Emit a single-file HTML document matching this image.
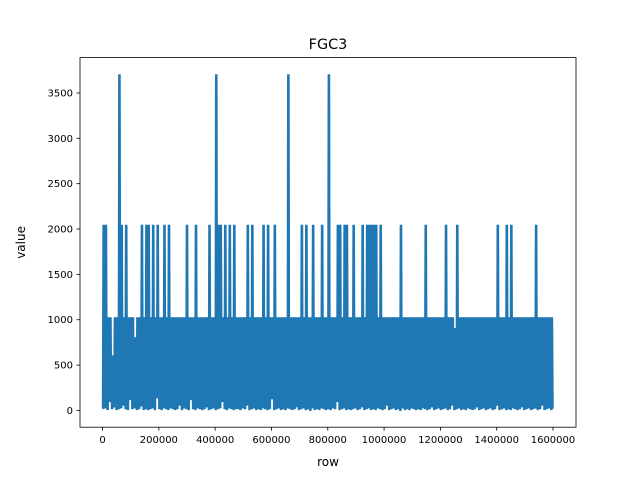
<!DOCTYPE html>
<html><head><meta charset="utf-8"><style>
html,body{margin:0;padding:0;background:#fff;}
svg{display:block;font-family:"DejaVu Sans","Liberation Sans",sans-serif;}
</style></head><body>
<svg id="chart" width="640" height="480"></svg>
<script>
const rowStep = 8000;
const highs = [
2040,2040,1020,1020,600,1020,1020,3700,2040,1020,
2040,1020,1020,1020,800,1020,1020,2040,1020,2040,
2040,1020,2040,1020,2040,1020,1020,2040,1020,2040,
1020,1020,1020,1020,1020,1020,1020,2040,1020,1020,
1020,2040,1020,1020,1020,1020,1020,2040,1020,1020,
3700,2040,2040,1020,2040,1020,2040,1020,2040,1020,
1020,1020,1020,1020,2040,1020,2040,1020,1020,1020,
1020,2040,1020,2040,1020,1020,2040,1020,1020,1020,
1020,1020,3700,1020,1020,1020,1020,1020,2040,1020,
2040,1020,1020,2040,1020,1020,1020,2040,1020,1020,
3700,1020,1020,1020,2040,2040,1020,2040,2040,1020,
1020,2040,1020,1020,1020,2040,1020,2040,2040,2040,
2040,2040,1020,2040,1020,1020,1020,1020,1020,1020,
1020,1020,2040,1020,1020,1020,1020,1020,1020,1020,
1020,1020,1020,2040,1020,1020,1020,1020,1020,1020,
1020,1020,2040,1020,1020,1020,900,2040,1020,1020,
1020,1020,1020,1020,1020,1020,1020,1020,1020,1020,
1020,1020,1020,1020,1020,2040,1020,1020,1020,2040,
1020,2040,1020,1020,1020,1020,1020,1020,1020,1020,
1020,1020,2040,1020,1020,1020,1020,1020,1020,1020];
const lows = [
20,30,10,100,20,40,10,20,30,60,
20,10,120,20,30,10,20,50,10,20,
10,20,30,10,140,20,10,30,20,10,
30,20,10,20,60,10,30,20,10,120,
20,10,30,20,10,20,40,10,20,30,
10,20,30,100,20,10,30,20,10,20,
20,10,30,20,60,10,20,30,10,20,
10,30,20,10,20,130,10,20,30,10,
20,10,30,20,10,20,40,10,20,30,
10,20,0,30,10,20,10,30,20,10,
20,10,30,20,100,10,20,30,10,20,
10,20,30,10,20,40,10,20,30,10,
20,10,30,20,10,20,60,10,20,30,
10,20,0,30,10,20,10,30,20,10,
20,10,30,20,10,20,40,10,20,30,
10,20,30,10,20,60,10,20,30,10,
20,10,30,20,10,20,40,10,20,30,
10,20,30,10,20,60,10,20,30,10,
20,10,30,20,10,20,40,10,20,30,
10,20,30,10,20,60,10,20,30,10];
const yTicks = [0,500,1000,1500,2000,2500,3000,3500];
const xTicks = [0,200000,400000,600000,800000,1000000,1200000,1400000,1600000];

const svg = document.getElementById('chart');
const NS = 'http://www.w3.org/2000/svg';
const L=80,R=576,T=57.6,B=427.2;
const xMin=-80080,xMax=1681680,yMin=-185,yMax=3890;
const xs = v => L+(v-xMin)/(xMax-xMin)*(R-L);
const ys = v => B-(v-yMin)/(yMax-yMin)*(B-T);
function mk(tag, attrs, parent){const e=document.createElementNS(NS,tag);for(const k in attrs)e.setAttribute(k,attrs[k]);(parent||svg).appendChild(e);return e;}

let d='';
for(let i=0;i<highs.length;i++){
  const r0=i*rowStep;
  const q=rowStep/4;
  d+=(i===0?'M':'L')+xs(r0).toFixed(2)+','+ys(lows[i]).toFixed(2);
  d+='L'+xs(r0+q).toFixed(2)+','+ys(highs[i]).toFixed(2);
  d+='L'+xs(r0+2*q).toFixed(2)+','+ys(lows[i]).toFixed(2);
  d+='L'+xs(r0+3*q).toFixed(2)+','+ys(highs[i]).toFixed(2);
}
d+='L'+xs(highs.length*rowStep).toFixed(2)+','+ys(20).toFixed(2);
const line=mk('path',{d:d,fill:'none',stroke:'#1f77b4','stroke-width':1.5,'stroke-linejoin':'round'});



const frame=mk('rect',{x:L,y:T,width:R-L,height:B-T,fill:'none',stroke:'#000','stroke-width':0.8});



yTicks.forEach(v=>{
  const y=ys(v);
  mk('line',{x1:L-3.5,x2:L,y1:y,y2:y,stroke:'#000','stroke-width':0.8});
  const t=mk('text',{x:L-7,y:y+3.5,'text-anchor':'end','font-size':10});
  t.textContent=v;
  
  
});
xTicks.forEach(v=>{
  const x=xs(v);
  mk('line',{x1:x,x2:x,y1:B,y2:B+3.5,stroke:'#000','stroke-width':0.8});
  const t=mk('text',{x:x,y:B+16,'text-anchor':'middle','font-size':10});
  t.textContent=v;
  
  
});
const title=mk('text',{x:(L+R)/2,y:49,'text-anchor':'middle','font-size':14.4});
title.textContent='FGC3';


const xl=mk('text',{x:(L+R)/2,y:466,'text-anchor':'middle','font-size':12});
xl.textContent='row';


const yl=mk('text',{x:25,y:(T+B)/2,'text-anchor':'middle','font-size':12,transform:'rotate(-90 25 '+((T+B)/2)+')'});
yl.textContent='value';


</script>
</body></html>
